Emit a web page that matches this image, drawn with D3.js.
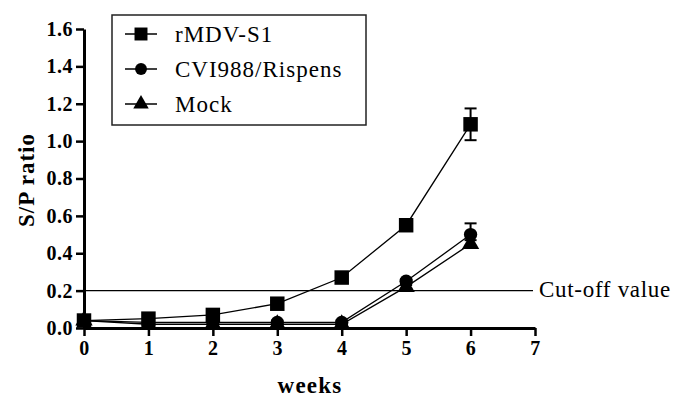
<!DOCTYPE html>
<html>
<head>
<meta charset="utf-8">
<script src="https://cdn.jsdelivr.net/npm/d3@7"></script>
<style>
  body { margin: 0; background: #fff; }
</style>
</head>
<body>
<div id="chart"></div>
<script>
const weeks = [0, 1, 2, 3, 4, 5, 6];
const seriesNames = ['rMDV-S1', 'CVI988/Rispens', 'Mock'];
const rmdvValues = [0.04, 0.05, 0.07, 0.13, 0.27, 0.55, 1.09];
const rmdvErrors = [0.01, 0.01, 0.01, 0.01, 0.01, 0.03, 0.085];
const cviValues = [0.04, 0.03, 0.03, 0.03, 0.03, 0.25, 0.50];
const cviErrors = [0.01, 0.01, 0.01, 0.01, 0.01, 0.01, 0.06];
const mockValues = [0.04, 0.02, 0.02, 0.02, 0.02, 0.22, 0.45];
const mockErrors = [0.01, 0.01, 0.01, 0.01, 0.01, 0.01, 0.02];
const yTicks = [0, 0.2, 0.4, 0.6, 0.8, 1.0, 1.2, 1.4, 1.6];
const xTicks = [0, 1, 2, 3, 4, 5, 6, 7];
const cutoff = 0.2;

const width = 685;
const height = 409;
const serif = "'Liberation Serif'";

const svg = d3.select('#chart')
    .append('svg')
    .attr('width', width)
    .attr('height', height);

const xScale = d3.scaleLinear().domain([0, 7]).range([84, 535]);
const yScale = d3.scaleLinear().domain([0, 1.6]).range([328, 29]);

// axes
const xAxis = d3.axisBottom(xScale).tickValues(xTicks).tickSize(8).tickPadding(5)
    .tickFormat(d3.format('d'));
const yAxis = d3.axisLeft(yScale).tickValues(yTicks).tickSize(8).tickPadding(3)
    .tickFormat(d3.format('.1f'));

function styleAxis(g) {
    g.attr('font-family', serif).attr('font-size', 20);
    g.select('.domain').attr('stroke', '#000').attr('stroke-width', 3);
    g.selectAll('.tick line').attr('stroke', '#000').attr('stroke-width', 2.5);
    g.selectAll('.tick text')
        .attr('fill', '#000')
        .attr('font-weight', 'bold')
        .attr('letter-spacing', 0.5);
}

svg.append('g')
    .attr('transform', `translate(0, ${yScale(0)})`)
    .call(xAxis.tickSizeOuter(0))
    .call(styleAxis);

svg.append('g')
    .attr('transform', `translate(${xScale(0)}, 0)`)
    .call(yAxis.tickSizeOuter(0))
    .call(styleAxis);

// cut-off line
svg.append('line')
    .attr('x1', xScale(0)).attr('x2', 533)
    .attr('y1', yScale(cutoff)).attr('y2', yScale(cutoff))
    .attr('stroke', '#000').attr('stroke-width', 1.3);

svg.append('text')
    .attr('x', 539).attr('y', yScale(cutoff) + 6)
    .attr('font-family', serif)
    .attr('font-size', 23)
    .attr('letter-spacing', 0.7)
    .text('Cut-off value');

// axis titles
svg.append('text')
    .attr('transform', 'translate(34, 180) rotate(-90)')
    .attr('text-anchor', 'middle')
    .attr('font-family', serif)
    .attr('font-size', 23)
    .attr('font-weight', 'bold')
    .attr('letter-spacing', 1)
    .text('S/P ratio');

svg.append('text')
    .attr('x', 310).attr('y', 393)
    .attr('text-anchor', 'middle')
    .attr('font-family', serif)
    .attr('font-size', 23)
    .attr('font-weight', 'bold')
    .attr('letter-spacing', 1.2)
    .text('weeks');

// series
const series = [
    { name: seriesNames[0], values: rmdvValues, errors: rmdvErrors, symbol: d3.symbolSquare },
    { name: seriesNames[1], values: cviValues, errors: cviErrors, symbol: d3.symbolCircle },
    { name: seriesNames[2], values: mockValues, errors: mockErrors, symbol: d3.symbolTriangle }
];

const line = d3.line()
    .x((d, i) => xScale(weeks[i]))
    .y((d) => yScale(d));

const symbolSize = { 'rMDV-S1': 210, 'CVI988/Rispens': 140, 'Mock': 130 };

series.slice().reverse().forEach((s) => {
    const g = svg.append('g');
    g.append('path')
        .attr('d', line(s.values))
        .attr('fill', 'none')
        .attr('stroke', '#000')
        .attr('stroke-width', 1.3);

    // error bars
    const eb = g.selectAll('.eb')
        .data(s.values)
        .enter()
        .append('g');
    eb.append('line')
        .attr('x1', (d, i) => xScale(weeks[i])).attr('x2', (d, i) => xScale(weeks[i]))
        .attr('y1', (d, i) => yScale(d - s.errors[i])).attr('y2', (d, i) => yScale(d + s.errors[i]))
        .attr('stroke', '#000').attr('stroke-width', 2);
    ['-', '+'].forEach((sign) => {
        eb.append('line')
            .attr('x1', (d, i) => xScale(weeks[i]) - 6).attr('x2', (d, i) => xScale(weeks[i]) + 6)
            .attr('y1', (d, i) => yScale(sign === '+' ? d + s.errors[i] : d - s.errors[i]))
            .attr('y2', (d, i) => yScale(sign === '+' ? d + s.errors[i] : d - s.errors[i]))
            .attr('stroke', '#000').attr('stroke-width', 2);
    });

    g.selectAll('.pt')
        .data(s.values)
        .enter()
        .append('path')
        .attr('d', d3.symbol().type(s.symbol).size(symbolSize[s.name]))
        .attr('transform', (d, i) => `translate(${xScale(weeks[i])}, ${yScale(d)})`)
        .attr('fill', '#000');
});

// legend
const legend = svg.append('g');
legend.append('rect')
    .attr('x', 112).attr('y', 15)
    .attr('width', 254).attr('height', 110)
    .attr('fill', '#fff')
    .attr('stroke', '#222').attr('stroke-width', 1.5);

series.forEach((s, i) => {
    const y = 34 + i * 35;
    legend.append('line')
        .attr('x1', 125).attr('x2', 157)
        .attr('y1', y).attr('y2', y)
        .attr('stroke', '#000').attr('stroke-width', 1.5);
    legend.append('path')
        .attr('d', d3.symbol().type(s.symbol).size(symbolSize[s.name] * 0.8))
        .attr('transform', `translate(141, ${y})`)
        .attr('fill', '#000');
    legend.append('text')
        .attr('x', 175).attr('y', y + 8)
        .attr('font-family', serif)
        .attr('font-size', 23)
        .attr('letter-spacing', 1)
        .text(s.name);
});
</script>
</body>
</html>
